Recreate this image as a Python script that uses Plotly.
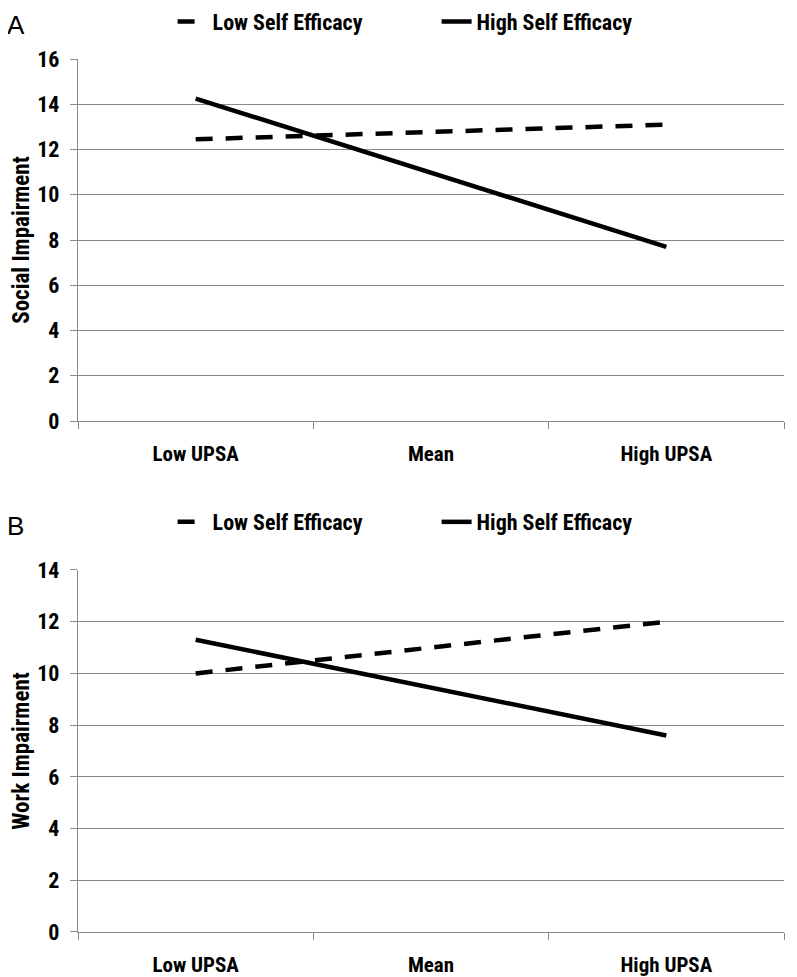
import plotly.graph_objects as go

categories = ["Low UPSA", "Mean", "High UPSA"]
series_names = ["Low Self Efficacy", "High Self Efficacy"]
social_low = [12.45, 12.78, 13.1]
social_high = [14.25, 10.97, 7.7]
work_low = [10.0, 11.0, 12.0]
work_high = [11.3, 9.45, 7.6]
social_ticks = [0, 2, 4, 6, 8, 10, 12, 14, 16]
work_ticks = [0, 2, 4, 6, 8, 10, 12, 14]

FONT = "Liberation Sans Narrow, Arial Narrow, Roboto Condensed, Roboto, sans-serif"
GRID = "#8a8a8a"

fig = go.Figure()

fig.add_trace(go.Scatter(x=categories, y=social_low, mode="lines", name=series_names[0],
                         line=dict(color="black", width=4.5, dash="17px,13px"),
                         xaxis="x", yaxis="y", legend="legend"))
fig.add_trace(go.Scatter(x=categories, y=social_high, mode="lines", name=series_names[1],
                         line=dict(color="black", width=4.5),
                         xaxis="x", yaxis="y", legend="legend"))
fig.add_trace(go.Scatter(x=categories, y=work_low, mode="lines", name=series_names[0],
                         line=dict(color="black", width=4.5, dash="17px,13px"),
                         xaxis="x2", yaxis="y2", legend="legend2"))
fig.add_trace(go.Scatter(x=categories, y=work_high, mode="lines", name=series_names[1],
                         line=dict(color="black", width=4.5),
                         xaxis="x2", yaxis="y2", legend="legend2"))

xcommon = dict(type="category", range=[-0.5, 2.5], tickson="boundaries", ticks="outside",
               ticklen=7, tickcolor=GRID, tickwidth=1.3, showline=True, linecolor=GRID,
               linewidth=1.3, showgrid=False, zeroline=False, ticklabelstandoff=14,
               automargin=False,
               tickfont=dict(family=FONT, size=21, color="black", weight="bold"),
               fixedrange=True)
ycommon = dict(showgrid=True, gridcolor=GRID, gridwidth=1.3, showline=True, linecolor=GRID,
               linewidth=1.3, ticks="outside", ticklen=7, tickcolor=GRID, tickwidth=1.3,
               zeroline=False, ticklabelstandoff=6, automargin=False,
               tickfont=dict(family=FONT, size=22, color="black", weight="bold"))

legend_font = dict(family=FONT, size=22, color="black", weight="bold")
title_font = dict(family=FONT, size=23, color="black", weight="bold")

fig.update_layout(
    width=789, height=969,
    margin=dict(l=70, r=13, t=51, b=45, autoexpand=False),
    paper_bgcolor="white", plot_bgcolor="white",
    showlegend=True,
    xaxis=dict(domain=[0, 1], anchor="y", **xcommon),
    yaxis=dict(domain=[0.5853, 1], anchor="x", range=[0, 16], tickvals=social_ticks,
               title=dict(text="Social Impairment", standoff=6, font=title_font),
               **ycommon),
    xaxis2=dict(domain=[0, 1], anchor="y2", **xcommon),
    yaxis2=dict(domain=[0, 0.4147], anchor="x2", range=[0, 14], tickvals=work_ticks,
                title=dict(text="Work Impairment", standoff=6, font=title_font),
                **ycommon),
    legend=dict(orientation="h", x=0.134, y=1.0668, xanchor="left", yanchor="top",
                font=legend_font, entrywidth=219, entrywidthmode="pixels",
                bgcolor="rgba(0,0,0,0)"),
    legend2=dict(orientation="h", x=0.134, y=0.4696, xanchor="left", yanchor="middle",
                 font=legend_font, entrywidth=219, entrywidthmode="pixels",
                 bgcolor="rgba(0,0,0,0)"),
    annotations=[
        dict(text="A", xref="paper", yref="paper", x=-0.104, y=1.0584, xanchor="left",
             yanchor="top", showarrow=False,
             font=dict(family="Liberation Sans, Arial, sans-serif", size=26, color="black")),
        dict(text="B", xref="paper", yref="paper", x=-0.104, y=0.465, xanchor="left",
             yanchor="middle", showarrow=False,
             font=dict(family="Liberation Sans, Arial, sans-serif", size=26, color="black")),
    ],
)

fig.write_html("out.html")
